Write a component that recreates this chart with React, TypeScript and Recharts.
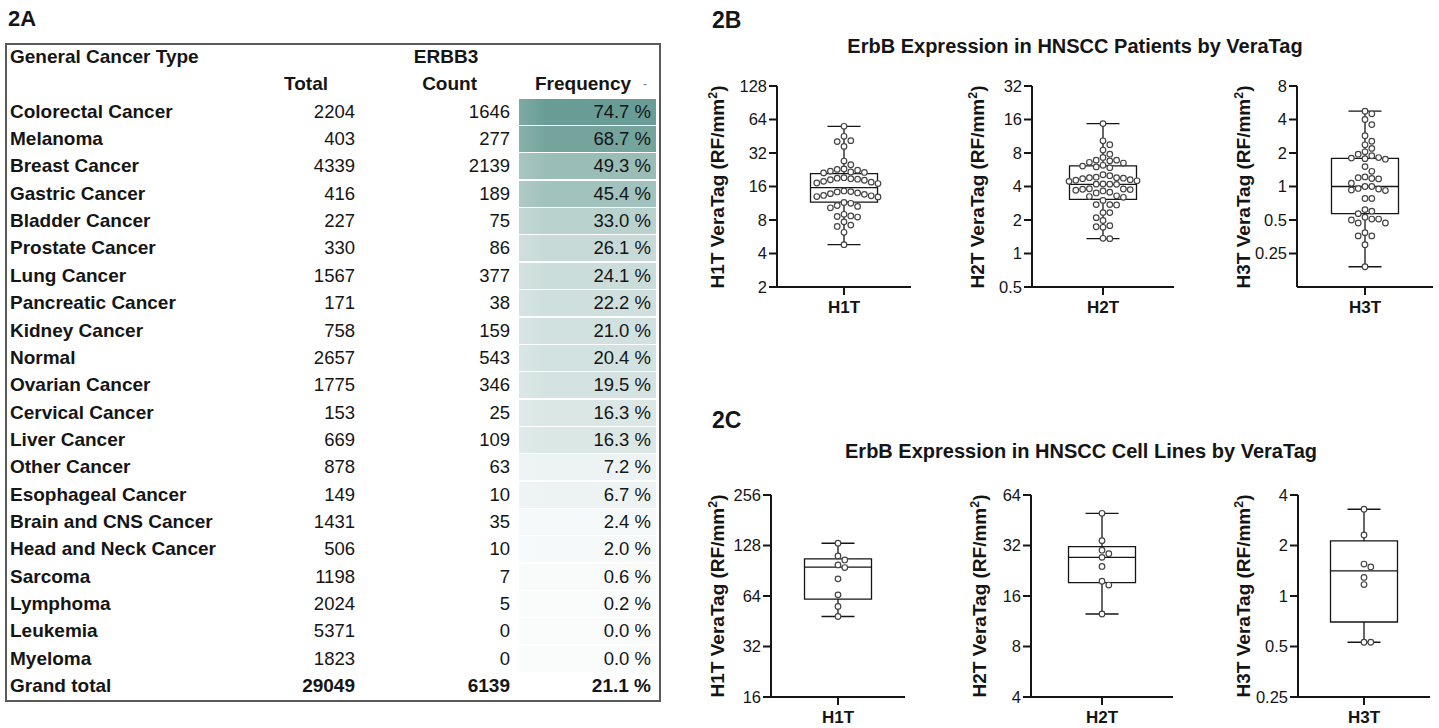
import { ComposedChart, XAxis, YAxis, Scatter, ReferenceArea, ReferenceLine } from 'recharts'

// ---- 2A table ----
const cancerTypes = [
  'Colorectal Cancer', 'Melanoma', 'Breast Cancer', 'Gastric Cancer', 'Bladder Cancer',
  'Prostate Cancer', 'Lung Cancer', 'Pancreatic Cancer', 'Kidney Cancer', 'Normal',
  'Ovarian Cancer', 'Cervical Cancer', 'Liver Cancer', 'Other Cancer', 'Esophageal Cancer',
  'Brain and CNS Cancer', 'Head and Neck Cancer', 'Sarcoma', 'Lymphoma', 'Leukemia', 'Myeloma',
]
const totals = [2204, 403, 4339, 416, 227, 330, 1567, 171, 758, 2657, 1775, 153, 669, 878, 149, 1431, 506, 1198, 2024, 5371, 1823]
const counts = [1646, 277, 2139, 189, 75, 86, 377, 38, 159, 543, 346, 25, 109, 63, 10, 35, 10, 7, 5, 0, 0]
const frequencies = [74.7, 68.7, 49.3, 45.4, 33.0, 26.1, 24.1, 22.2, 21.0, 20.4, 19.5, 16.3, 16.3, 7.2, 6.7, 2.4, 2.0, 0.6, 0.2, 0.0, 0.0]
const grandTotal = [29049, 6139, 21.1]

// ---- 2B patients (RF/mm2) ----
const patientsH1T = [55.6, 45.2, 41.3, 40.5, 36.7, 27.1, 25.1, 23.0, 22.4, 22.0, 21.6, 21.2, 22.8, 21.4,
  19.0, 18.8, 18.4, 18.2, 17.8, 17.5, 17.2, 17.0, 18.6, 19.2,
  14.6, 14.4, 14.0, 13.6, 13.2, 13.0, 12.9, 13.3, 13.8, 14.3,
  11.5, 10.6, 10.3, 10.8, 11.3, 9.0, 8.7, 8.5, 8.6, 7.7, 7.2, 7.0, 6.2, 4.8]
const patientsH2T = [14.7, 10.3, 9.5, 8.5, 7.8, 7.3, 6.9, 6.9, 6.8, 6.6, 6.5, 6.1, 6.0, 6.2, 5.9, 5.1, 5.0,
  4.8, 4.75, 4.6, 4.5, 4.45, 4.55, 4.7, 4.8, 4.85, 4.2, 4.18, 4.2, 4.22,
  3.8, 3.75, 3.65, 3.5, 3.55, 3.7, 3.78, 3.82, 3.25, 3.2, 3.3, 3.0,
  2.73, 2.75, 2.75, 2.33, 2.33, 1.98, 2.1, 1.74, 1.72, 1.78, 1.36, 1.37]
const patientsH3T = [4.75, 4.5, 4.0, 3.6, 2.86, 2.55, 2.37, 2.2, 2.05, 1.95, 1.89, 1.8, 1.82, 1.76, 1.78,
  1.51, 1.37, 1.22, 1.18, 1.17, 1.2, 1.0, 0.96, 0.93, 0.92, 0.95, 1.0, 1.07, 0.78, 0.78,
  0.62, 0.57, 0.6, 0.51, 0.51, 0.5, 0.53, 0.47, 0.47, 0.385, 0.36, 0.36, 0.3, 0.19]

// ---- 2C cell lines ----
const cellsH1T = [132, 111, 105, 98, 94.6, 81, 65, 55.4, 48.3]
const cellsH2T = [49.8, 34.2, 30.0, 28.6, 27.2, 24.0, 19.6, 18.6, 12.5]
const cellsH3T = [3.29, 2.31, 1.55, 1.49, 1.29, 1.17, 0.53, 0.53]

// box stats: min, q1, median, q3, max
const boxPatientsH1T = [4.8, 11.6, 15.6, 20.9, 55.6]
const boxPatientsH2T = [1.36, 3.07, 4.18, 6.14, 14.7]
const boxPatientsH3T = [0.19, 0.57, 1.0, 1.79, 4.75]
const boxCellsH1T = [48.3, 61.3, 95, 106.5, 132]
const boxCellsH2T = [12.5, 19.25, 27.2, 31.5, 49.8]
const boxCellsH3T = [0.53, 0.7, 1.41, 2.13, 3.29]

const ticksP1 = [2, 4, 8, 16, 32, 64, 128]
const ticksP2 = [0.5, 1, 2, 4, 8, 16, 32]
const ticksP3 = [0.25, 0.5, 1, 2, 4, 8]
const ticksC1 = [16, 32, 64, 128, 256]
const ticksC2 = [4, 8, 16, 32, 64]
const ticksC3 = [0.25, 0.5, 1, 2, 4]

const FONT = '"Liberation Sans", Arial, Helvetica, sans-serif'
const INK = '#151515'
const R = 2.8

// simple beeswarm: spread points sideways until they stop overlapping (pixel space)
function swarm(values: number[], pxPerLog: number, pxPerUnit: number) {
  const step = 2 * R + 1.2
  const placed: { px: number; py: number }[] = []
  const order = values.map((_, i) => i).sort((a, b) => values[b] - values[a])
  return order.map((i) => {
    const py = Math.log2(values[i]) * pxPerLog
    let px = 0
    for (let k = 0; k < 60; k++) {
      const off = k === 0 ? 0 : (k % 2 === 1 ? 1 : -1) * Math.ceil(k / 2) * step
      if (placed.every((p) => Math.hypot(p.px - off, p.py - py) >= 2 * R + 1)) {
        px = off
        break
      }
    }
    placed.push({ px, py })
    return { x: 1 + px / pxPerUnit, y: values[i] }
  })
}

interface BoxPanelProps {
  values: number[]
  stats: number[]
  domain: [number, number]
  ticks: number[]
  name: string
  axisX: number
  plotTop: number
  plotH: number
  half: number
  labelX: number
}

function BoxPanel({ values, stats, domain, ticks, name, axisX, plotTop, plotH, half, labelX }: BoxPanelProps) {
  const yw = 62
  const mt = 10
  const mr = 6
  const xh = 38
  const W = yw + half * 2 + mr
  const H = mt + plotH + xh
  const pxPerLog = plotH / Math.log2(domain[1] / domain[0])
  const pts = swarm(values, pxPerLog, half)
  const bw = 33.5 / half
  const cw = 16.5 / half
  const [mn, q1, md, q3, mx] = stats
  const left = axisX - yw
  const top = plotTop - mt
  const line = { stroke: INK, strokeWidth: 1.3 }

  return (
    <div style={{ position: 'absolute', left, top, width: W, height: H }}>
      <ComposedChart width={W} height={H} margin={{ top: mt, right: mr, bottom: 0, left: 0 }}>
        <XAxis
          type="number"
          dataKey="x"
          domain={[0, 2]}
          ticks={[1]}
          tickFormatter={() => name}
          allowDataOverflow
          height={xh}
          tickSize={8}
          tickMargin={6}
          axisLine={{ stroke: INK, strokeWidth: 2 }}
          tickLine={{ stroke: INK, strokeWidth: 2 }}
          tick={{ fill: INK, fontSize: 17, fontWeight: 'bold', fontFamily: FONT }}
        />
        <YAxis
          type="number"
          dataKey="y"
          scale="log"
          domain={domain}
          ticks={ticks}
          allowDataOverflow
          width={yw}
          tickSize={8}
          tickFormatter={(v: number) => String(v)}
          axisLine={{ stroke: INK, strokeWidth: 2 }}
          tickLine={{ stroke: INK, strokeWidth: 2 }}
          tick={{ fill: INK, fontSize: 16.5, fontFamily: FONT }}
        />
        <ReferenceArea x1={1 - bw} x2={1 + bw} y1={q1} y2={q3} fill="#fff" fillOpacity={0} {...line} />
        <ReferenceLine segment={[{ x: 1 - bw, y: md }, { x: 1 + bw, y: md }]} {...line} />
        <ReferenceLine segment={[{ x: 1, y: mn }, { x: 1, y: q1 }]} {...line} />
        <ReferenceLine segment={[{ x: 1, y: q3 }, { x: 1, y: mx }]} {...line} />
        <ReferenceLine segment={[{ x: 1 - cw, y: mn }, { x: 1 + cw, y: mn }]} {...line} />
        <ReferenceLine segment={[{ x: 1 - cw, y: mx }, { x: 1 + cw, y: mx }]} {...line} />
        <Scatter
          data={pts}
          isAnimationActive={false}
          shape={(p: any) => <circle cx={p.cx} cy={p.cy} r={R} fill="#fff" stroke="#444" strokeWidth={1.2} />}
        />
      </ComposedChart>
      <div
        style={{
          position: 'absolute',
          left: labelX - left,
          top: mt + plotH / 2,
          transform: 'translate(-50%, -50%) rotate(-90deg)',
          whiteSpace: 'nowrap',
          fontFamily: FONT,
          fontWeight: 'bold',
          fontSize: 19,
          color: INK,
        }}
      >
        {name} VeraTag (RF/mm<sup style={{ fontSize: '0.65em', verticalAlign: '0.55em', lineHeight: 0 }}>2</sup>)
      </div>
    </div>
  )
}

function freqColor(f: number) {
  const t = f / 74.7
  const from = [250, 252, 252]
  const to = [104, 156, 148]
  const c = from.map((a, i) => Math.round(a + (to[i] - a) * t))
  const l = from.map((a, i) => Math.round(a + (to[i] - a) * t * 0.85))
  return `linear-gradient(to right, rgb(${l.join(',')}) 0%, rgb(${c.join(',')}) 20%, rgb(${c.join(',')}) 100%)`
}

const ROW0 = 57
const ROW_H = 27.35

function Cell({ text, cy, x, align, bold }: { text: string; cy: number; x: number; align: 'left' | 'right' | 'center'; bold?: boolean }) {
  const w = 260
  const left = align === 'left' ? x : align === 'right' ? x - w : x - w / 2
  return (
    <div
      style={{
        position: 'absolute',
        left,
        width: w,
        top: cy - 12,
        height: 24,
        lineHeight: '24px',
        textAlign: align,
        fontWeight: bold ? 'bold' : 'normal',
        fontSize: bold ? 19 : 18.5,
        whiteSpace: 'nowrap',
      }}
    >
      {text}
    </div>
  )
}

function Table() {
  const fmt = (f: number) => `${f.toFixed(1)} %`
  return (
    <div style={{ position: 'absolute', left: 0, top: 0, fontFamily: FONT, color: INK }}>
      <div style={{ position: 'absolute', left: 8, top: 6, fontSize: 22, fontWeight: 'bold' }}>2A</div>
      <div
        style={{ position: 'absolute', left: 5, top: 43, width: 652, height: 655, border: '2px solid #5a5a5a' }}
      />
      {frequencies.map((f, i) => {
        const cy = ROW0 + ROW_H * (i + 2)
        return (
          <div
            key={'bg' + i}
            style={{ position: 'absolute', left: 519, width: 137, top: cy - 13, height: 26, background: freqColor(f) }}
          />
        )
      })}
      <Cell text="General Cancer Type" cy={ROW0} x={10} align="left" bold />
      <Cell text="ERBB3" cy={ROW0} x={446} align="center" bold />
      <Cell text="Total" cy={ROW0 + ROW_H} x={328} align="right" bold />
      <Cell text="Count" cy={ROW0 + ROW_H} x={477} align="right" bold />
      <Cell text="Frequency" cy={ROW0 + ROW_H} x={535} align="left" bold />
      <div style={{ position: 'absolute', left: 643, top: ROW0 + ROW_H - 12, lineHeight: '24px', color: '#777', fontSize: 12 }}>-</div>
      {cancerTypes.map((c, i) => {
        const cy = ROW0 + ROW_H * (i + 2)
        return (
          <div key={c}>
            <Cell text={c} cy={cy} x={10} align="left" bold />
            <Cell text={String(totals[i])} cy={cy} x={355} align="right" />
            <Cell text={String(counts[i])} cy={cy} x={510} align="right" />
            <Cell text={fmt(frequencies[i])} cy={cy} x={651} align="right" />
          </div>
        )
      })}
      <Cell text="Grand total" cy={ROW0 + ROW_H * 23} x={10} align="left" bold />
      <Cell text={String(grandTotal[0])} cy={ROW0 + ROW_H * 23} x={355} align="right" bold />
      <Cell text={String(grandTotal[1])} cy={ROW0 + ROW_H * 23} x={510} align="right" bold />
      <Cell text={fmt(grandTotal[2])} cy={ROW0 + ROW_H * 23} x={651} align="right" bold />
    </div>
  )
}

export default function App() {
  const heading = { position: 'absolute' as const, fontFamily: FONT, fontWeight: 'bold' as const, color: INK }
  return (
    <div style={{ position: 'absolute', left: 0, top: 0, width: 1439, height: 728, background: '#fff', overflow: 'hidden' }}>
      <Table />

      <div style={{ ...heading, left: 712, top: 7, fontSize: 23 }}>2B</div>
      <div style={{ ...heading, left: 1075, top: 35, fontSize: 20, transform: 'translateX(-50%)', whiteSpace: 'nowrap' }}>
        ErbB Expression in HNSCC Patients by VeraTag
      </div>
      <div style={{ ...heading, left: 712, top: 407, fontSize: 23 }}>2C</div>
      <div style={{ ...heading, left: 1081, top: 440, fontSize: 20, transform: 'translateX(-50%)', whiteSpace: 'nowrap' }}>
        ErbB Expression in HNSCC Cell Lines by VeraTag
      </div>

      <BoxPanel values={patientsH1T} stats={boxPatientsH1T} domain={[2, 128]} ticks={ticksP1} name="H1T"
        axisX={777} plotTop={86} plotH={201} half={67} labelX={718} />
      <BoxPanel values={patientsH2T} stats={boxPatientsH2T} domain={[0.5, 32]} ticks={ticksP2} name="H2T"
        axisX={1032} plotTop={86} plotH={201} half={71} labelX={978} />
      <BoxPanel values={patientsH3T} stats={boxPatientsH3T} domain={[0.125, 8]} ticks={ticksP3} name="H3T"
        axisX={1297} plotTop={86} plotH={201} half={68} labelX={1244} />

      <BoxPanel values={cellsH1T} stats={boxCellsH1T} domain={[16, 256]} ticks={ticksC1} name="H1T"
        axisX={771} plotTop={495} plotH={202} half={67} labelX={718} />
      <BoxPanel values={cellsH2T} stats={boxCellsH2T} domain={[4, 64]} ticks={ticksC2} name="H2T"
        axisX={1031} plotTop={495} plotH={202} half={71} labelX={980} />
      <BoxPanel values={cellsH3T} stats={boxCellsH3T} domain={[0.25, 4]} ticks={ticksC3} name="H3T"
        axisX={1298} plotTop={495} plotH={202} half={66} labelX={1244} />
    </div>
  )
}
